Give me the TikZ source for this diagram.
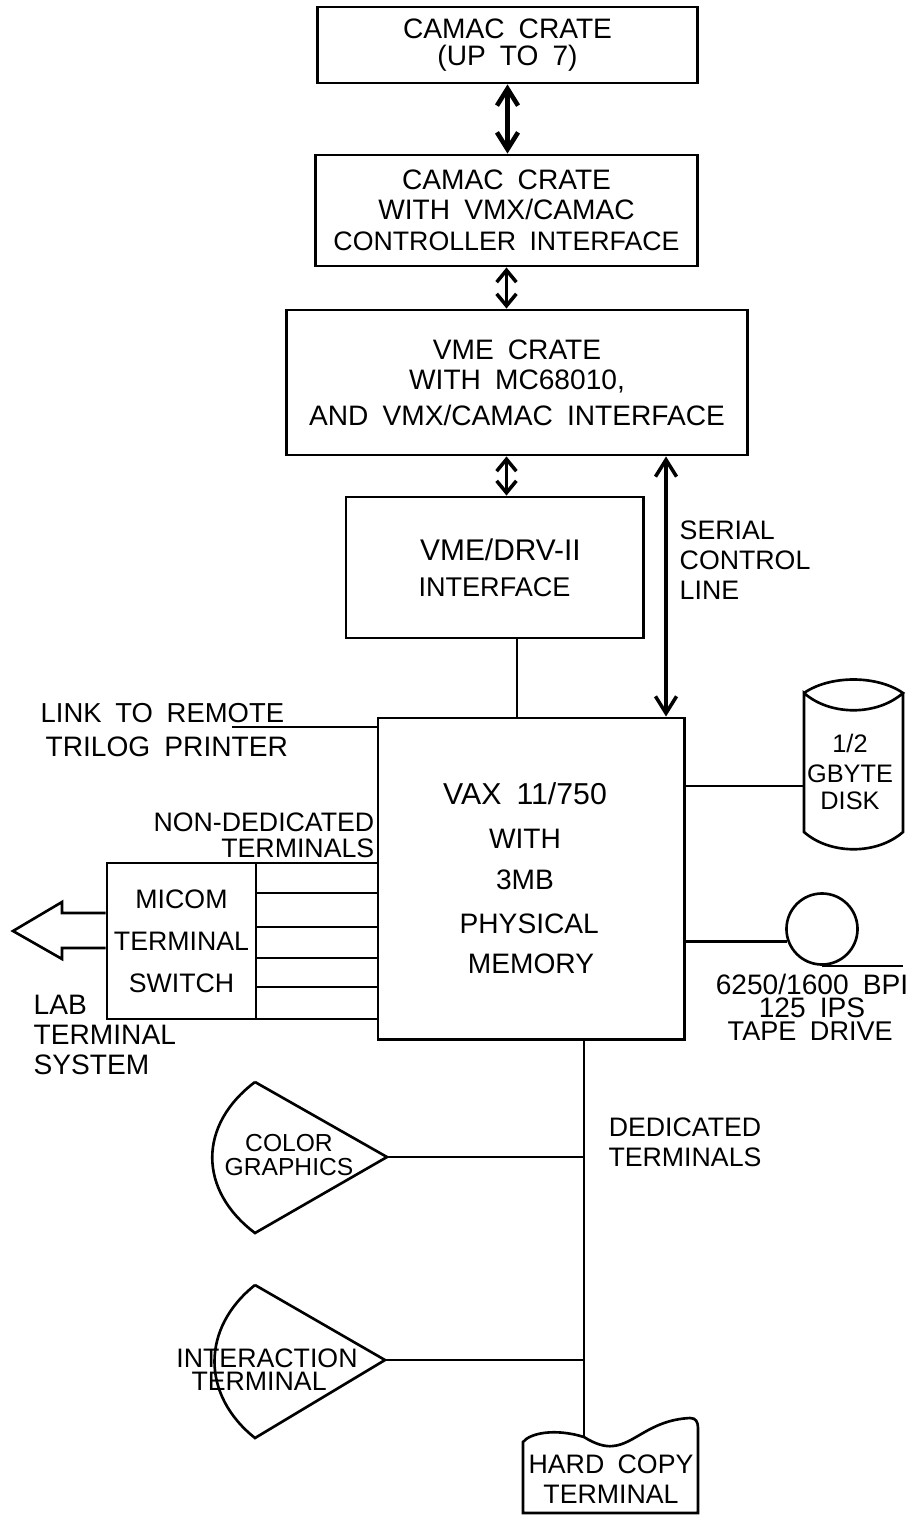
\documentclass[tikz,border=0pt]{standalone}
\usepackage{fontspec}
\setmainfont[WordSpace=1.8]{Liberation Sans}
\usetikzlibrary{arrows.meta,calc}
\begin{document}
\begin{tikzpicture}[x=0.01cm, y=-0.01cm, every node/.style={font=\fontsize{8}{8.5}\selectfont, inner sep=0pt, align=center}, box/.style={draw, line width=0.8pt}, narrow/.style={font=\fontsize{7.6}{8.5}\selectfont}, wire/.style={line width=0.75pt}, dbl/.style={line width=1pt, {Straight Barb[length=4.8pt,width=6pt]}-{Straight Barb[length=4.8pt,width=6pt]}}, dblshort/.style={line width=1pt, {Straight Barb[length=3.4pt,width=5.6pt]}-{Straight Barb[length=3.4pt,width=5.6pt]}}]
\useasboundingbox (0,0) rectangle (915,1515);
\node[box, minimum width=37.9mm, minimum height=7.6mm] (crate1) at (507.5,45) {CAMAC CRATE\\[-0.6pt](UP TO 7)};
\node[box, minimum width=38.1mm, minimum height=11.1mm] (crate2) at (506.5,210.5) {CAMAC CRATE\\WITH VMX/CAMAC\\[0.3pt]\fontsize{7.6}{8.5}\selectfont CONTROLLER INTERFACE};
\node[box, minimum width=46mm, minimum height=14.5mm] (vme) at (517,382.5) {VME CRATE\\WITH MC68010,\\[1.7pt]AND VMX/CAMAC INTERFACE};
\node[box, minimum width=29.7mm, minimum height=14.1mm] (drv) at (494.5,567.5) {\fontsize{8.5}{8.5}\selectfont\kern3.4pt VME/DRV-II\\[1.8pt]\fontsize{7.7}{8.5}\selectfont INTERFACE};
\node[box, minimum width=30.6mm, minimum height=32.1mm] (vax) at (531,878.5) {\fontsize{8.6}{8.5}\selectfont VAX 11/750\kern3.4pt\\[4pt]WITH\kern3.4pt\\[3pt]3MB\kern3.4pt\\[4pt]PHYSICAL\kern1pt\\[3pt]MEMORY};
\node[box, narrow, minimum width=14.9mm, minimum height=15.6mm] (micom) at (181.5,941) {MICOM\\[3.4pt]TERMINAL\\[3.4pt]SWITCH};
\node[font=\fontsize{7.2}{8.5}\selectfont, minimum width=9.2mm, minimum height=16.6mm] (disk) at (850,772) {1/2\\[0pt]GBYTE\\[-0.8pt]DISK};
\node[draw, wire, circle, minimum size=7.1mm] (tape) at (822,929) {};
\node (tapelbl) at (812,1007) {6250/1600 BPI\\[-2pt]125 IPS\\[-2pt]\fontsize{7.7}{8.5}\selectfont TAPE DRIVE\kern1pt};
\node[narrow, anchor=west, align=left] (serial) at (679,560) {SERIAL\\CONTROL\\LINE};
\node[anchor=west, align=left] (link) at (40,730) {\fontsize{7.8}{8.5}\selectfont LINK TO REMOTE\\[1.4pt]\hspace*{1.4pt}TRILOG PRINTER};
\node[narrow, anchor=east, align=right] (nonded) at (375,835) {NON-DEDICATED\\[-1.1pt]TERMINALS};
\node[anchor=west, align=left] (lab) at (33,1035) {LAB\\TERMINAL\\SYSTEM};
\node[narrow] (ded) at (685,1142) {DEDICATED\\TERMINALS};
\node[font=\fontsize{7}{8.5}\selectfont] (colorg) at (289,1155) {COLOR\\[-1.6pt]GRAPHICS};
\node[narrow] (inter) at (267,1370) {INTERACTION\\[-1.9pt]TERMINAL\kern4.5pt};
\node[narrow] (hard) at (611,1479) {HARD COPY\\TERMINAL};
\coordinate (lnk) at (232,727);
\coordinate (ser) at (666,600);
\coordinate (bus) at (584,1039);
\coordinate (capex) at (387,1157);
\coordinate (iapex) at (385,1360);
\coordinate (hardtop) at (584,1437);
\draw[dbl, line width=1.3pt] (crate1.south) -- (crate1.south |- crate2.north);
\draw[dblshort] (crate2.south) -- (crate2.south |- vme.north);
\draw[dblshort] (crate2.south |- vme.south) -- (crate2.south |- drv.north);
\draw[dbl] (ser |- vme.south) -- (ser |- vax.north);
\draw[wire] (vme.south |- drv.south) -- (vme.south |- vax.north);
\draw[wire] (lnk) -- (lnk -| vax.west);
\foreach \y in {863,893,927,958,987,1019}
  \draw[wire] (micom.east |- 0,\y) -- (vax.west |- 0,\y);
\draw[wire] (micom.west |- 0,913) -- (62,913) -- (62,902) -- (13,931) -- (62,959) -- (62,948) -- (micom.west |- 0,948);
\draw[wire] (vax.east |- 0,786) -- (disk.west |- 0,786);
\draw[wire] (vax.east |- tape.200) -- (tape.200);
\draw[wire] (tape.south) -- ++(81,0);
\draw[wire] (804,693) .. controls (830,675) and (877,675) .. (903,693) .. controls (877,716) and (830,716) .. (804,693) -- (804,832) .. controls (830,855) and (877,855) .. (903,832) -- (903,693);
\draw[wire] (bus) -- (hardtop);
\draw[wire] (capex) -- (capex -| bus);
\draw[wire] (iapex) -- (iapex -| bus);
\draw[wire] (255,1082) -- (capex) -- (255,1233) .. controls (198,1190) and (198,1125) .. (255,1082);
\draw[wire] (255,1285) -- (iapex) -- (255,1438) .. controls (201,1395) and (201,1328) .. (255,1285);
\draw[wire] (523,1513) -- (523,1442) .. controls (530,1433) and (555,1428) .. (hardtop) .. controls (595,1444) and (605,1447) .. (613,1446) .. controls (635,1444) and (650,1420) .. (690,1418) .. controls (696,1418) and (698,1422) .. (698,1428) -- (698,1513) -- cycle;
\end{tikzpicture}
\end{document}
